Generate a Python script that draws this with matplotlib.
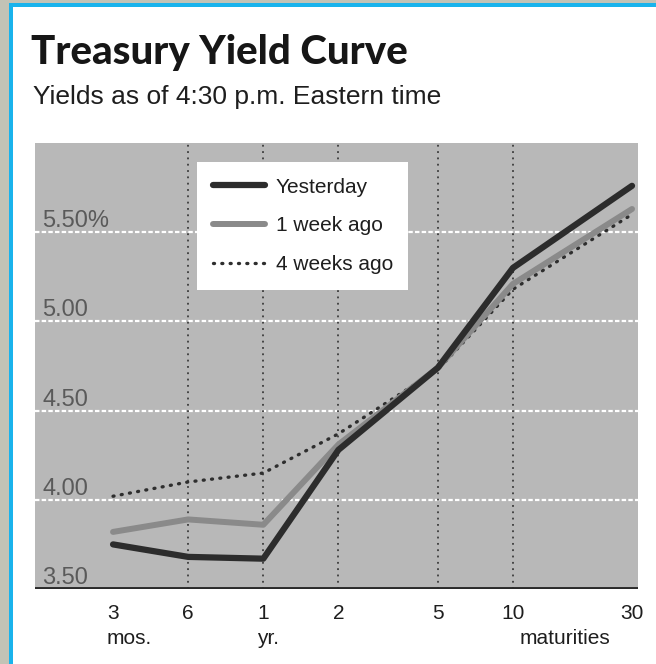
import matplotlib
matplotlib.use("Agg")
import matplotlib.pyplot as plt
from matplotlib.patches import Rectangle
from matplotlib.transforms import blended_transform_factory, offset_copy

# Maturities in years and yields (%) for each curve
maturities = [0.25, 0.5, 1, 2, 5, 10, 30]
tick_labels = ["3", "6", "1", "2", "5", "10", "30"]
yesterday = [3.75, 3.68, 3.67, 4.28, 4.74, 5.30, 5.76]
week_ago = [3.82, 3.89, 3.86, 4.31, 4.74, 5.21, 5.63]
four_weeks_ago = [4.02, 4.10, 4.15, 4.37, 4.73, 5.18, 5.60]
series_names = ["Yesterday", "1 week ago", "4 weeks ago"]
y_levels = [3.5, 4.0, 4.5, 5.0, 5.5]
y_labels = ["3.50", "4.00", "4.50", "5.00", "5.50%"]
grid_maturities = [0.5, 1, 2, 5, 10]

plt.rcParams["font.family"] = ["Liberation Sans", "DejaVu Sans"]

W, H = 656, 664
fig = plt.figure(figsize=(W / 100, H / 100), dpi=100)
fig.patch.set_facecolor("white")

# page edge: grey strip and cyan rule along top and left
def band(x0, y0, w, h, c):
    fig.add_artist(Rectangle((x0 / W, 1 - (y0 + h) / H), w / W, h / H,
                             transform=fig.transFigure, color=c, lw=0))

band(0, 0, W, 3, "#c2c3b6")
band(0, 0, 9, H, "#c2c3b6")
band(9, 3, W - 9, 3.5, "#19b3ec")
band(9, 3, 3.5, H - 3, "#19b3ec")

fig.text(31 / W, 1 - 64 / H, "Treasury Yield Curve", fontsize=29, fontweight="black",
         family=["Lato", "Liberation Sans"], color="#161616", ha="left", va="baseline")
fig.text(33 / W, 1 - 104 / H, "Yields as of 4:30 p.m. Eastern time", fontsize=19,
         color="#1e1e1e", ha="left", va="baseline")

ax = fig.add_axes([35 / W, 1 - 589 / H, 603 / W, 446 / H])
ax.set_facecolor("#b8b8b8")
ax.set_xscale("log")
ax.set_xlim(0.1217, 31.7)
ax.set_ylim(3.5, 6.0)
for s in ax.spines.values():
    s.set_visible(False)

# horizontal white grid and dotted verticals
for v in y_levels[1:]:
    ax.axhline(v, color="white", lw=1.6, ls=(0, (2, 1)), zorder=1)
for m in grid_maturities:
    ax.axvline(m, color="#3c3c3c", lw=1.3, ls=(0, (1, 2.5)), zorder=1)
ax.axhline(3.5, color="#2a2a2a", lw=2.8, zorder=5)

ax.plot(maturities, four_weeks_ago, color="#2e2e2e", lw=2.4, ls=(0, (0.3, 2.2)),
        dash_capstyle="round", zorder=3, label=series_names[2])
ax.plot(maturities, week_ago, color="#8a8a8a", lw=4.3, zorder=3, label=series_names[1],
        solid_joinstyle="round", solid_capstyle="round")
ax.plot(maturities, yesterday, color="#2c2c2c", lw=4.5, zorder=4, label=series_names[0],
        solid_joinstyle="round", solid_capstyle="round")

# y value labels sit just above their grid lines
ty = blended_transform_factory(ax.transAxes, ax.transData)
for v, lab in zip(y_levels, y_labels):
    ax.text(0.012, v, lab, transform=offset_copy(ty, fig=fig, y=5, units="dots"),
            fontsize=17, color="#5a5a5a", ha="left", va="baseline", zorder=2)

ax.set_yticks([])
ax.set_xticks(maturities)
ax.set_xticklabels(tick_labels, fontsize=15, color="#1e1e1e")
ax.minorticks_off()
ax.tick_params(axis="x", length=0, pad=11)

tx = blended_transform_factory(ax.transData, ax.transAxes)
for m, sub in [(0.25, "mos."), (1, "yr.")]:
    ax.text(m, -0.11, sub, transform=offset_copy(tx, fig=fig, x=-6, units="dots"),
            fontsize=15, color="#1e1e1e", ha="left", va="center")
ax.text(0.879, -0.11, "maturities", transform=ax.transAxes, fontsize=15,
        color="#1e1e1e", ha="center", va="center")

handles, labels = ax.get_legend_handles_labels()
order = [2, 1, 0]
leg = ax.legend([handles[i] for i in order], [labels[i] for i in order],
                loc="upper left", bbox_to_anchor=(0.269, 0.957), borderaxespad=0,
                frameon=True, facecolor="white", edgecolor="none", fancybox=False,
                framealpha=1, fontsize=15, handlelength=2.5, handletextpad=0.53,
                labelspacing=0.95, borderpad=0.74)
leg.set_zorder(6)
for t in leg.get_texts():
    t.set_color("#1e1e1e")

fig.savefig("out.png", dpi=100, facecolor=fig.get_facecolor())
